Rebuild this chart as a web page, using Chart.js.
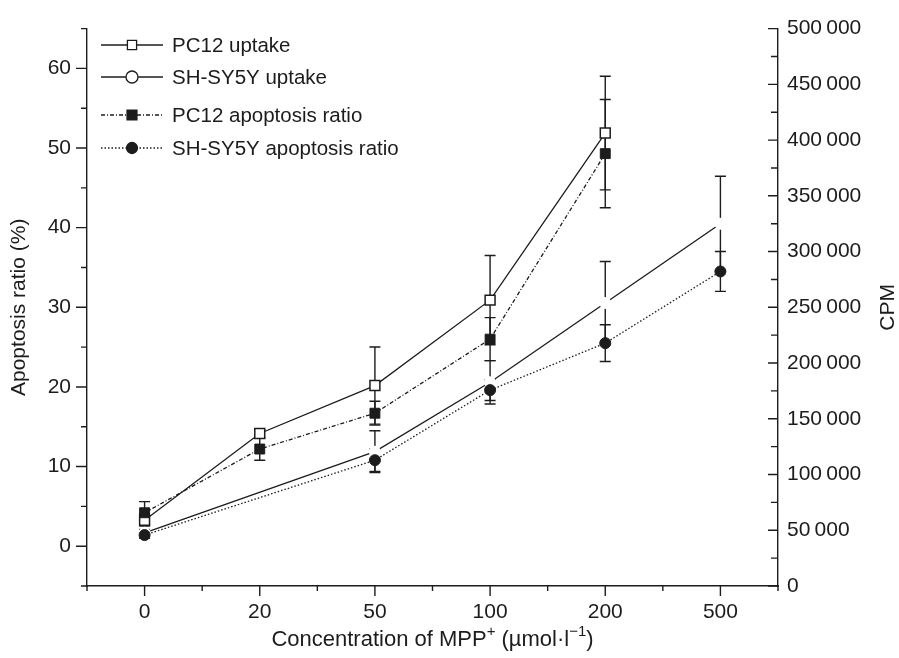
<!DOCTYPE html>
<html>
<head>
<meta charset="utf-8">
<style>
  html, body { margin: 0; padding: 0; background: #fff; }
</style>
</head>
<body>
<canvas id="chart" width="899" height="658"></canvas>
<script src="https://cdn.jsdelivr.net/npm/chart.js@4.4.0/dist/chart.umd.min.js"></script>
<script>
// MPP+ concentrations (umol/l), one category each
var concentrations = ['0', '20', '50', '100', '200', '500'];

// uptake, CPM (right axis)
var pc12Uptake    = [59000, 136800, 179800, 256400, 406300, null];
var pc12UptakeErr = [5300, 3500, 34600, 40000, 51000, null];
var shUptake      = [47700, null, 120500, 182700, 253800, 324900];
var shUptakeErr   = [3000, null, 18700, 19500, 37300, 42600];

// apoptosis ratio, % (left axis)
var pc12Apop    = [4.2, 12.2, 16.7, 26.0, 49.3, null];
var pc12ApopErr = [1.4, 1.4, 1.5, 2.7, 6.8, null];
var shApop      = [1.4, null, 10.8, 19.6, 25.5, 34.5];
var shApopErr   = [0.4, null, 1.4, 1.3, 2.3, 2.5];

// tick labels
var leftTicks  = [0, 10, 20, 30, 40, 50, 60];
var rightTicks = [0, 50000, 100000, 150000, 200000, 250000, 300000, 350000, 400000, 450000, 500000];

// x title pieces: [text, superscript?]
var xTitleParts = [['Concentration of MPP', false], ['+', true], [' (\u00B5mol\u00B7l', false], ['\u22121', true], [')', false]];

var INK = '#1c1c1c';
var FONT = "'Liberation Sans', Arial, Helvetica, sans-serif";

function fmtThousands(v) {
  var s = String(v);
  if (s.length <= 3) return s;
  return s.slice(0, s.length - 3) + '\u2009' + s.slice(s.length - 3);
}

// vertical error bars, drawn under the markers
var errorBars = {
  id: 'errorBars',
  beforeDatasetsDraw: function (chart) {
    var ctx = chart.ctx;
    ctx.save();
    ctx.strokeStyle = INK;
    ctx.lineWidth = 1.4;
    chart.data.datasets.forEach(function (ds, i) {
      var meta = chart.getDatasetMeta(i);
      var ys = chart.scales[ds.yAxisID];
      meta.data.forEach(function (pt, j) {
        var v = ds.data[j], e = ds.errors[j];
        if (v == null || e == null) return;
        var x = pt.x;
        var y1 = ys.getPixelForValue(v + e);
        var y2 = ys.getPixelForValue(v - e);
        ctx.beginPath();
        ctx.moveTo(x, y1); ctx.lineTo(x, y2);
        ctx.moveTo(x - 5.5, y1); ctx.lineTo(x + 5.5, y1);
        ctx.moveTo(x - 5.5, y2); ctx.lineTo(x + 5.5, y2);
        ctx.stroke();
      });
    });
    ctx.restore();
  }
};

// major + minor tick marks (left outward, right inward, bottom outward) and titles
var axisTicks = {
  id: 'axisTicks',
  afterDraw: function (chart) {
    var ctx = chart.ctx, a = chart.chartArea;
    var sx = chart.scales.x, yL = chart.scales.yL, yR = chart.scales.yR;
    var v, p, len;
    ctx.save();
    ctx.strokeStyle = INK;
    ctx.lineWidth = 1.4;
    ctx.beginPath();
    for (v = -5; v <= 65; v += 5) {
      p = yL.getPixelForValue(v);
      len = (v % 10 === 0) ? 11 : 6;
      ctx.moveTo(a.left, p); ctx.lineTo(a.left - len, p);
    }
    for (v = 0; v <= 500000; v += 25000) {
      p = yR.getPixelForValue(v);
      len = (v % 50000 === 0) ? 10 : 7;
      ctx.moveTo(a.right, p); ctx.lineTo(a.right - len, p);
    }
    for (v = -0.5; v <= 5.5; v += 0.5) {
      p = sx.getPixelForValue(v);
      len = (v % 1 === 0) ? 10 : 5;
      ctx.moveTo(p, a.bottom); ctx.lineTo(p, a.bottom + len);
    }
    ctx.stroke();

    ctx.fillStyle = INK;
    ctx.textBaseline = 'middle';

    // x title with superscripts
    var big = '22px ' + FONT, small = '15px ' + FONT;
    var total = 0;
    xTitleParts.forEach(function (part) {
      ctx.font = part[1] ? small : big;
      total += ctx.measureText(part[0]).width;
    });
    var tx = (a.left + a.right) / 2 - total / 2;
    ctx.textAlign = 'left';
    xTitleParts.forEach(function (part) {
      ctx.font = part[1] ? small : big;
      ctx.fillText(part[0], tx, part[1] ? 632 : 640);
      tx += ctx.measureText(part[0]).width;
    });

    // right axis title, reads bottom to top like the left one
    ctx.font = '21px ' + FONT;
    ctx.textAlign = 'center';
    ctx.translate(888, (a.top + a.bottom) / 2);
    ctx.rotate(-Math.PI / 2);
    ctx.fillText('CPM', 0, 0);
    ctx.restore();
  }
};

// legend: line sample + marker + label
var lineLegend = {
  id: 'lineLegend',
  afterDraw: function (chart) {
    var ctx = chart.ctx;
    var rows = [45, 77, 115, 148];
    ctx.save();
    chart.data.datasets.forEach(function (ds, i) {
      var y = rows[i];
      ctx.strokeStyle = INK;
      ctx.lineWidth = ds.borderWidth;
      ctx.setLineDash(ds.borderDash || []);
      ctx.beginPath();
      ctx.moveTo(101, y); ctx.lineTo(163, y);
      ctx.stroke();
      ctx.setLineDash([]);
      ctx.fillStyle = ds.pointBackgroundColor;
      ctx.strokeStyle = INK;
      ctx.lineWidth = 1.3;
      Chart.helpers.drawPoint(ctx, {
        pointStyle: ds.pointStyle,
        radius: ds.legendRadius,
        rotation: 0,
        borderWidth: 1.3
      }, 132, y);
      ctx.fillStyle = INK;
      ctx.font = '20.5px ' + FONT;
      ctx.textAlign = 'left';
      ctx.textBaseline = 'middle';
      ctx.fillText(ds.label, 172, y + 1);
    });
    ctx.restore();
  }
};

var ctx = document.getElementById('chart').getContext('2d');
var chart = new Chart(ctx, {
  type: 'line',
  data: {
    labels: concentrations,
    datasets: [{
      label: 'PC12 uptake',
      data: pc12Uptake,
      errors: pc12UptakeErr,
      yAxisID: 'yR',
      order: 2,
      borderColor: INK,
      borderWidth: 1.3,
      pointStyle: 'rect',
      pointRadius: 7,
      legendRadius: 6.5,
      pointBackgroundColor: '#fff',
      pointBorderColor: INK,
      pointBorderWidth: 1.5,
      spanGaps: true
    }, {
      label: 'SH-SY5Y uptake',
      data: shUptake,
      errors: shUptakeErr,
      yAxisID: 'yR',
      order: 3,
      borderColor: INK,
      borderWidth: 1.3,
      pointStyle: 'circle',
      pointRadius: 6,
      legendRadius: 6,
      pointBackgroundColor: '#fff',
      pointBorderColor: '#fff',
      pointBorderWidth: 0,
      spanGaps: true
    }, {
      label: 'PC12 apoptosis ratio',
      data: pc12Apop,
      errors: pc12ApopErr,
      yAxisID: 'yL',
      order: 1,
      borderColor: INK,
      borderWidth: 1.3,
      borderDash: [4, 2, 1, 2],
      pointStyle: 'rect',
      pointRadius: 7,
      legendRadius: 7,
      pointBackgroundColor: INK,
      pointBorderColor: INK,
      pointBorderWidth: 1,
      spanGaps: true
    }, {
      label: 'SH-SY5Y apoptosis ratio',
      data: shApop,
      errors: shApopErr,
      yAxisID: 'yL',
      order: 0,
      borderColor: INK,
      borderWidth: 1.3,
      borderDash: [1.5, 2],
      pointStyle: 'circle',
      pointRadius: 5.5,
      legendRadius: 5.5,
      pointBackgroundColor: INK,
      pointBorderColor: INK,
      pointBorderWidth: 1,
      spanGaps: true
    }]
  },
  options: {
    responsive: false,
    animation: false,
    devicePixelRatio: 1,
    layout: { padding: { top: 23, left: 0, right: 0, bottom: 0 } },
    plugins: {
      legend: { display: false },
      tooltip: { enabled: false }
    },
    scales: {
      x: {
        type: 'category',
        offset: true,
        grid: { display: false, drawTicks: false },
        border: { display: true, color: INK, width: 1.4 },
        ticks: { color: INK, font: { family: FONT, size: 21 }, padding: 14, maxRotation: 0 },
        afterFit: function (s) { s.height = 72; }
      },
      yL: {
        type: 'linear',
        position: 'left',
        min: -5,
        max: 65,
        grid: { display: false, drawTicks: false },
        border: { display: true, color: INK, width: 1.4 },
        afterBuildTicks: function (s) { s.ticks = leftTicks.map(function (v) { return { value: v }; }); },
        ticks: { color: INK, font: { family: FONT, size: 21 }, padding: 16 },
        title: {
          display: true,
          text: 'Apoptosis ratio (%)',
          color: INK,
          font: { family: FONT, size: 21 },
          padding: { top: 7, bottom: 0 }
        },
        afterFit: function (s) { s.width = 87; }
      },
      yR: {
        type: 'linear',
        position: 'right',
        min: 0,
        max: 500000,
        grid: { display: false, drawTicks: false },
        border: { display: true, color: INK, width: 1.4 },
        afterBuildTicks: function (s) { s.ticks = rightTicks.map(function (v) { return { value: v }; }); },
        ticks: {
          color: INK,
          font: { family: FONT, size: 21 },
          padding: 9,
          callback: function (v) { return fmtThousands(v); }
        },
        afterFit: function (s) { s.width = 121; }
      }
    }
  },
  plugins: [errorBars, axisTicks, lineLegend]
});
</script>
</body>
</html>
